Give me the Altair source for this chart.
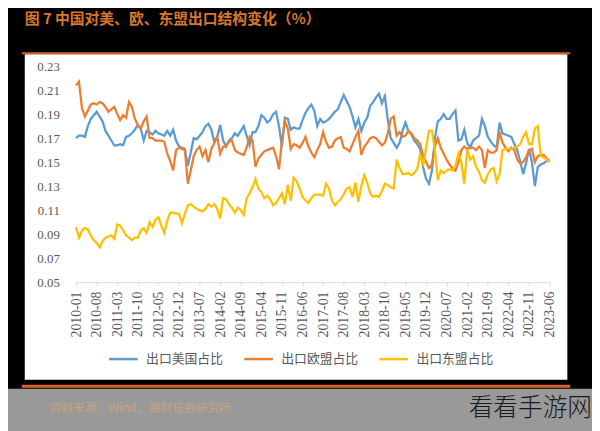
import altair as alt
import pandas as pd

months = [f"{y}-{m:02d}" for y in range(2010, 2024) for m in range(1, 13)][:162]
tick_labels = months[::7]

us = [0.170,0.172,0.172,0.171,0.180,0.186,0.189,0.192,0.188,0.184,
      0.176,0.172,0.168,0.164,0.164,0.165,0.164,0.171,0.172,0.174,
      0.177,0.181,0.178,0.168,0.176,0.175,0.173,0.176,0.174,0.173,
      0.172,0.176,0.172,0.177,0.168,0.163,0.162,0.161,0.147,0.158,
      0.170,0.169,0.172,0.175,0.180,0.182,0.177,0.167,0.171,0.181,
      0.168,0.163,0.168,0.170,0.174,0.172,0.176,0.180,0.172,0.164,
      0.175,0.175,0.180,0.189,0.187,0.183,0.185,0.190,0.192,0.180,
      0.163,0.187,0.186,0.177,0.179,0.178,0.178,0.185,0.191,0.195,
      0.198,0.193,0.180,0.186,0.183,0.184,0.186,0.189,0.192,0.194,
      0.200,0.206,0.201,0.196,0.188,0.179,0.186,0.176,0.183,0.187,
      0.197,0.200,0.204,0.207,0.199,0.205,0.185,0.170,0.166,0.162,
      0.166,0.176,0.183,0.176,0.173,0.168,0.165,0.161,0.146,0.136,
      0.132,0.143,0.170,0.184,0.186,0.190,0.186,0.186,0.190,0.193,
      0.168,0.169,0.177,0.166,0.162,0.168,0.170,0.172,0.186,0.180,
      0.171,0.167,0.164,0.162,0.183,0.174,0.173,0.172,0.171,0.165,
      0.160,0.151,0.140,0.149,0.161,0.150,0.130,0.146,0.148,0.149,
      0.151,0.151]

eu = [0.214,0.217,0.195,0.188,0.193,0.198,0.199,0.198,0.200,0.199,
      0.196,0.192,0.194,0.196,0.190,0.185,0.189,0.187,0.200,0.196,
      0.186,0.181,0.178,0.184,0.188,0.170,0.170,0.168,0.168,0.168,
      0.167,0.157,0.151,0.143,0.160,0.162,0.161,0.160,0.132,0.143,
      0.155,0.160,0.163,0.155,0.160,0.150,0.161,0.166,0.171,0.157,
      0.163,0.163,0.167,0.168,0.160,0.158,0.157,0.156,0.162,0.171,
      0.168,0.146,0.153,0.156,0.159,0.160,0.161,0.162,0.155,0.144,
      0.168,0.184,0.178,0.161,0.165,0.164,0.162,0.166,0.171,0.163,
      0.158,0.154,0.160,0.165,0.175,0.167,0.162,0.163,0.168,0.170,
      0.171,0.162,0.161,0.159,0.165,0.171,0.176,0.156,0.163,0.166,
      0.170,0.171,0.170,0.167,0.164,0.166,0.174,0.186,0.188,0.172,
      0.175,0.171,0.172,0.176,0.174,0.170,0.168,0.165,0.155,0.150,
      0.145,0.148,0.163,0.170,0.162,0.157,0.152,0.148,0.145,0.143,
      0.150,0.160,0.163,0.161,0.162,0.162,0.160,0.163,0.160,0.145,
      0.160,0.158,0.158,0.160,0.175,0.166,0.162,0.159,0.162,0.160,
      0.152,0.149,0.150,0.154,0.160,0.161,0.150,0.155,0.156,0.156,
      0.153,0.151]

asean = [0.096,0.087,0.093,0.095,0.094,0.089,0.085,0.083,0.079,0.084,
         0.087,0.088,0.089,0.086,0.098,0.097,0.093,0.089,0.087,0.085,
         0.087,0.087,0.093,0.095,0.091,0.100,0.096,0.102,0.104,0.097,
         0.091,0.101,0.108,0.108,0.107,0.107,0.099,0.107,0.114,0.115,
         0.113,0.111,0.110,0.109,0.111,0.115,0.113,0.115,0.111,0.103,
         0.120,0.119,0.115,0.112,0.108,0.112,0.110,0.106,0.120,0.124,
         0.129,0.136,0.128,0.125,0.120,0.122,0.119,0.114,0.116,0.120,
         0.124,0.115,0.131,0.118,0.137,0.134,0.128,0.121,0.118,0.116,
         0.120,0.123,0.123,0.123,0.122,0.132,0.128,0.118,0.114,0.117,
         0.119,0.123,0.128,0.129,0.121,0.133,0.117,0.130,0.139,0.133,
         0.124,0.121,0.122,0.121,0.126,0.132,0.131,0.129,0.128,0.152,
         0.145,0.140,0.140,0.141,0.139,0.141,0.144,0.157,0.147,0.162,
         0.176,0.176,0.160,0.135,0.143,0.141,0.143,0.144,0.143,0.147,
         0.157,0.150,0.132,0.160,0.152,0.155,0.146,0.142,0.135,0.133,
         0.140,0.144,0.145,0.134,0.140,0.160,0.161,0.161,0.161,0.162,
         0.163,0.165,0.171,0.175,0.165,0.165,0.178,0.180,0.155,0.154,
         0.152,0.150]

series_names = ["出口美国占比", "出口欧盟占比", "出口东盟占比"]
series_colors = ["#5B9BD5", "#ED7D31", "#FFC000"]
y_ticks = [0.05, 0.07, 0.09, 0.11, 0.13, 0.15, 0.17, 0.19, 0.21, 0.23]

title_text = "图 7 中国对美、欧、东盟出口结构变化（%）"
source_text = "资料来源：Wind、湘财证券研究所"
watermark = "看看手游网"

rows = []
for name, vals in zip(series_names, [us, eu, asean]):
    for i, (m, v) in enumerate(zip(months, vals)):
        rows.append({"month": m, "value": v, "series": name, "order": series_names.index(name)})
df = pd.DataFrame(rows)

W, H = 480, 219
one = pd.DataFrame({"k": [0]})

def rect(x1, x2, y1, y2, color):
    return alt.Chart(one).mark_rect(color=color).encode(
        x=alt.value(x1), x2=alt.value(x2), y=alt.value(y1), y2=alt.value(y2))

white_panel = rect(-52, 498, -12, 318, "#FFFFFF")
top_line = rect(-55, 501, -14, -12, "#D9622B")
bottom_line = rect(-55, 501, 323, 326, "#D9622B")
gray_band = rect(-80, 530, 327, 370, "#999999")

lines = alt.Chart(df).mark_line(strokeWidth=2.3).encode(
    x=alt.X("month:O", sort=months,
            scale=alt.Scale(type="point", padding=0),
            axis=alt.Axis(values=tick_labels, labelAngle=270, title=None,
                          labelFont="Liberation Serif", labelFontSize=14,
                          labelColor="#595959", domainColor="#D9D9D9",
                          tickColor="#D9D9D9", tickSize=4, labelPadding=5,
                          grid=False, zindex=1)),
    y=alt.Y("value:Q", scale=alt.Scale(domain=[0.05, 0.23], nice=False, zero=False),
            axis=alt.Axis(values=y_ticks, format=".2f", title=None,
                          labelFont="Liberation Serif", labelFontSize=13,
                          labelColor="#595959", domain=False, ticks=False,
                          grid=False, labelPadding=17, zindex=1)),
    color=alt.Color("series:N", sort=series_names,
                    scale=alt.Scale(domain=series_names, range=series_colors),
                    legend=alt.Legend(title=None, orient="none", direction="horizontal",
                                      legendX=32, legendY=281,
                                      symbolType="stroke", symbolSize=841,
                                      symbolStrokeWidth=2.5, labelFont="Noto Sans CJK SC",
                                      labelFontSize=13, labelColor="#595959",
                                      columnPadding=15, labelOffset=7, padding=0,
                                      zindex=1)),
    order=alt.Order("order:Q"),
)

title = alt.Chart(one).mark_text(text=title_text, align="left", baseline="middle",
                                 font="Noto Sans CJK SC", fontSize=15, fontWeight="bold",
                                 color="#D9772E").encode(x=alt.value(-52), y=alt.value(-48))
source = alt.Chart(one).mark_text(text=source_text, align="left", baseline="middle",
                                  font="Noto Sans CJK SC", fontSize=12,
                                  color="#C8A47E").encode(x=alt.value(-27), y=alt.value(347))
wm = alt.Chart(one).mark_text(text=watermark, align="left", baseline="middle",
                              font="Noto Sans CJK SC", fontSize=25, fontWeight=300,
                              color="#1A1A1A").encode(x=alt.value(398), y=alt.value(347))

chart = alt.layer(white_panel, top_line, bottom_line, gray_band, lines, title, source, wm).properties(
    width=W, height=H,
    autosize=alt.AutoSizeParams(type="none"),
    padding={"left": 69, "top": 56, "right": 43, "bottom": 148},
    background="#000000",
).configure_view(stroke=None)

chart.save("out.html", embed_options={"renderer": "svg", "actions": False})
